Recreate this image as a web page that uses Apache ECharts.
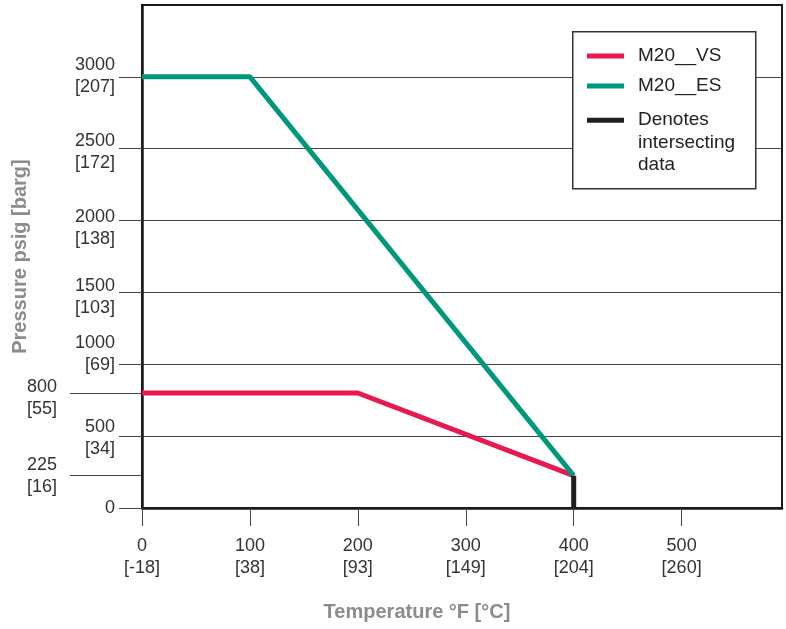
<!DOCTYPE html>
<html><head><meta charset="utf-8">
<script src="https://cdn.jsdelivr.net/npm/echarts@6/dist/echarts.min.js"></script>
<style>html,body{margin:0;padding:0;background:#fff}#c{width:786px;height:629px}</style>
</head><body><div id="c"></div>
<script>
// ---- data ----
const vsTemp = [0, 200, 400];
const vsPress = [800, 800, 225];
const esTemp = [0, 100, 400];
const esPress = [3000, 3000, 225];
const intersectTemp = [400, 400];
const intersectPress = [0, 225];
const seriesNames = ['M20__VS', 'M20__ES', 'Denotes\nintersecting\ndata'];
const yMainTicks = [0, 500, 1000, 1500, 2000, 2500, 3000];
const yMainLabels = ['0', '500\n[34]', '1000\n[69]', '1500\n[103]', '2000\n[138]', '2500\n[172]', '3000\n[207]'];
const ySpecialTicks = [225, 800];
const ySpecialLabels = ['225\n[16]', '800\n[55]'];
const xTicks = [0, 100, 200, 300, 400, 500];
const xLabels = ['0\n[-18]', '100\n[38]', '200\n[93]', '300\n[149]', '400\n[204]', '500\n[260]'];

// ---- style ----
const FONT = '"Liberation Sans", Arial, Helvetica, sans-serif';
const labelShift = {500: 2, 1000: -10, 1500: 5, 2000: 7, 2500: 3, 3000: -1, 800: 5, 225: 0};
const rich = {t: {fontSize: 18, lineHeight: 22, color: '#333', fontFamily: FONT}};
for (let h = 1; h <= 30; h++) rich['s' + h] = {fontSize: 1, lineHeight: h, height: h};
function richLabel(text, shift) {
  const lines = text.split('\n').map(l => '{t|' + l + '}');
  const h = Math.round(Math.abs(shift || 0) * 2);
  if (h > 0) {
    if (shift > 0) lines.unshift('{s' + h + '| }'); else lines.push('{s' + h + '| }');
  }
  return lines.join('\n');
}
function pairs(xs, ys) { return xs.map((x, i) => [x, ys[i]]); }

const chart = echarts.init(document.getElementById('c'));
chart.setOption({
  animation: false,
  backgroundColor: '#fff',
  grid: {left: 142, top: 5, right: 4, bottom: 121, show: true, borderColor: '#1a1a1a', borderWidth: 2, backgroundColor: 'transparent'},
  graphic: [{
    type: 'rect', left: 572, top: 31, z: 10,
    shape: {width: 183, height: 157},
    style: {fill: '#fff', stroke: '#333', lineWidth: 1.5}
  }],
  legend: [{
    data: [{name: seriesNames[0]}, {name: seriesNames[1]}],
    orient: 'vertical', left: 587, top: 45, padding: 0, itemGap: 8,
    itemWidth: 46, itemHeight: 5,
    icon: 'path://M0,0L37,0L37,5L0,5Z M46,0L46,0',
    itemStyle: {borderWidth: 0},
    textStyle: {fontSize: 19, lineHeight: 22, color: '#222', fontFamily: FONT},
    selectedMode: false, z: 20
  }, {
    data: [{name: seriesNames[2]}],
    orient: 'vertical', left: 587, top: 109, padding: 0,
    itemWidth: 46, itemHeight: 67,
    icon: 'path://M0,8.5L37,8.5L37,13.5L0,13.5Z M46,0L46,0 M46,67L46,67',
    itemStyle: {borderWidth: 0},
    textStyle: {fontSize: 19, lineHeight: 22.5, color: '#222', fontFamily: FONT},
    selectedMode: false, z: 20
  }],
  xAxis: {
    type: 'value', min: 0, max: 593, interval: 100,
    axisLine: {show: true, lineStyle: {color: '#1a1a1a', width: 2.5}},
    axisTick: {show: true, customValues: xTicks, length: 18, lineStyle: {color: '#444', width: 1}},
    axisLabel: {
      customValues: xTicks, margin: 27, fontSize: 18, lineHeight: 22, color: '#333', fontFamily: FONT,
      formatter: v => { const i = xTicks.indexOf(v); return i < 0 ? '' : xLabels[i]; }
    },
    splitLine: {show: false},
    name: 'Temperature °F [°C]', nameLocation: 'middle', nameGap: 94,
    nameTextStyle: {fontSize: 20, fontWeight: 'bold', color: '#8c8c8c', fontFamily: FONT, padding: [0, 90, 0, 0]}
  },
  yAxis: [{
    type: 'value', min: 0, max: 3500, interval: 500, position: 'left',
    axisLine: {show: true, lineStyle: {color: '#1a1a1a', width: 2.5}},
    axisTick: {show: true, customValues: yMainTicks, length: 23, lineStyle: {color: '#444', width: 1}},
    axisLabel: {
      customValues: yMainTicks, margin: 27, rich: rich,
      formatter: v => { const i = yMainTicks.indexOf(v); return i < 0 ? '' : richLabel(yMainLabels[i], labelShift[v]); }
    },
    splitLine: {show: true, lineStyle: {color: '#444', width: 1}},
    name: 'Pressure psig [barg]', nameLocation: 'middle', nameGap: 112, nameRotate: 90,
    nameTextStyle: {fontSize: 20, fontWeight: 'bold', color: '#8c8c8c', fontFamily: FONT}
  }, {
    type: 'value', min: 0, max: 3500, interval: 500, position: 'left', offset: 0,
    axisLine: {show: false},
    axisTick: {show: true, customValues: ySpecialTicks, length: 72, lineStyle: {color: '#444', width: 1}},
    axisLabel: {
      customValues: ySpecialTicks, margin: 85, rich: rich,
      formatter: v => { const i = ySpecialTicks.indexOf(v); return i < 0 ? '' : richLabel(ySpecialLabels[i], labelShift[v]); }
    },
    splitLine: {show: false}
  }],
  series: [{
    name: seriesNames[0], type: 'line', data: pairs(vsTemp, vsPress), symbol: 'none',
    color: '#e8194f', lineStyle: {width: 5, color: '#e8194f'}, z: 3
  }, {
    name: seriesNames[1], type: 'line', data: pairs(esTemp, esPress), symbol: 'none',
    color: '#00987a', lineStyle: {width: 5, color: '#00987a'}, z: 3
  }, {
    name: seriesNames[2], type: 'line', data: pairs(intersectTemp, intersectPress), symbol: 'none',
    color: '#231f20', lineStyle: {width: 5, color: '#231f20'}, z: 4
  }]
});
</script>
</body></html>
